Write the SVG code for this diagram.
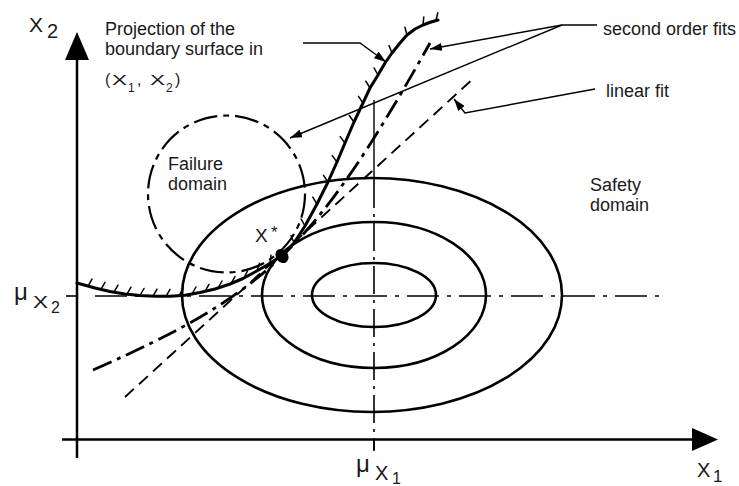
<svg xmlns="http://www.w3.org/2000/svg" width="739" height="486" viewBox="0 0 739 486">
<defs>
<marker id="ah" viewBox="0 0 12 8" refX="12" refY="4" markerWidth="12" markerHeight="8" markerUnits="userSpaceOnUse" orient="auto"><path d="M0,0 L12,4 L0,8 Z" fill="#000"/></marker>
</defs>
<style>
text{font-family:"Liberation Sans",Arial,sans-serif;fill:#1a1a1a}
.lbl{font-size:18px}
.ax{stroke:#000;stroke-width:2.5;fill:none}
.ell{stroke:#000;stroke-width:2.6;fill:none}
.dd{stroke:#000;stroke-width:1.6;fill:none;stroke-dasharray:32 8 4 8}
.lead{stroke:#000;stroke-width:1.4;fill:none}
.hatch{stroke:#000;stroke-width:1.5;fill:none;stroke-linecap:round}
</style>
<rect width="739" height="486" fill="#fff"/>

<g id="axes">
<line class="ax" x1="77" y1="58" x2="77" y2="458"/>
<polygon points="77,32 65,60 89,60" fill="#000"/>
<line class="ax" x1="62" y1="439.5" x2="694" y2="439.5"/>
<polygon points="718,439.5 692,428 692,451" fill="#000"/>
<line class="ax" x1="66" y1="296" x2="77" y2="296" style="stroke-width:1.6"/>
<line class="ax" x1="374" y1="439" x2="374" y2="451" style="stroke-width:1.6"/>
<text x="29" y="32" font-size="21">X</text>
<text x="47" y="38" font-size="20">2</text>
<text x="697" y="477" font-size="20">X</text>
<text x="713" y="482" font-size="17">1</text>
<text x="356" y="472" font-size="24">μ</text>
<text x="375" y="480" font-size="20">X</text>
<text x="392" y="484" font-size="16">1</text>
<text x="14" y="300" font-size="24">μ</text>
<text x="33" y="308" font-size="17" textLength="15" lengthAdjust="spacingAndGlyphs">X</text>
<text x="51" y="313" font-size="16">2</text>
</g>

<g id="center-lines">
<line class="dd" x1="95" y1="296" x2="662" y2="296"/>
<line class="lead" x1="374" y1="100" x2="374" y2="180"/>
<line class="dd" x1="374" y1="180" x2="374" y2="450" style="stroke-dasharray:28 6 3 6"/>
</g>

<g id="ellipses">
<ellipse class="ell" cx="374" cy="295" rx="62" ry="32"/>
<ellipse class="ell" cx="374" cy="295" rx="112" ry="73"/>
<ellipse class="ell" cx="372" cy="295" rx="190" ry="117"/>
</g>

<g id="failure-domain">
<circle cx="226.5" cy="194" r="78.5" fill="none" stroke="#000" stroke-width="2.2" stroke-dasharray="24 6 6 6"/>
<text class="lbl" x="168" y="170">Failure</text>
<text class="lbl" x="168" y="190">domain</text>
</g>

<g id="safety-domain">
<text class="lbl" x="590" y="191">Safety</text>
<text class="lbl" x="590" y="211">domain</text>
</g>

<g id="linear-fit">
<line x1="125" y1="397" x2="475" y2="77" stroke="#000" stroke-width="1.9" stroke-dasharray="12 7"/>
</g>

<g id="second-order-fit">
<path d="M93,370 C265,294 313,251 430,43" fill="none" stroke="#000" stroke-width="2.8" stroke-dasharray="20 6 4 6"/>
</g>

<g id="boundary">
<polyline fill="none" stroke="#000" stroke-width="3" stroke-linejoin="round" stroke-linecap="round" points="77,283 95,288 110,291.5 125,294 140,295.5 155,296.3 170,296.3 185,295.3 200,292.5 215,289 230,284 243,278.5 255,272 268,264.5 282,255.5 294,243 305,226 317,204 328,182 337,162 345,143 354,122 363,103 370,88 378,75 385,63 392,53 400,43 407,35 415,29 423,25 431,22 438,20"/>
<path class="hatch" d="M88,286.1 l4,-7 M101,289.4 l4,-7 M114,292.2 l4,-7 M127,294.2 l4,-7 M140,295.5 l4,-7 M153,296.2 l4,-7 M166,296.3 l4,-7 M179,295.7 l4,-7 M192,294 l4,-7 M205,291.3 l4,-7 M218,288 l4,-7 M231,283.6 l4,-7 M244,278 l3.5,-7.2 M257,270.8 l2.5,-7.6 M270,263.2 l1,-8 M294,243 l-2.9,-7.5 M305,226 l-3.9,-7 M317,204 l-4.2,-6.8 M328,182 l-4.5,-6.6 M337,162 l-4.8,-6.4 M345,143 l-4.8,-6.4 M354,122 l-4.7,-6.5 M363,103 l-4.5,-6.6 M370,88 l-4.2,-6.8 M378,75 l-3.9,-7 M392,53 l-3,-7.4 M407,35 l-2.1,-7.7 M423,25 l0.8,-8 M436,20.5 l1.8,-7.8"/>
<text class="lbl" x="105" y="35">Projection of the</text>
<text class="lbl" x="105" y="55">boundary surface in</text>
<text x="105" y="85" font-size="16">(</text>
<text x="112" y="85" font-size="15" textLength="15" lengthAdjust="spacingAndGlyphs">X</text>
<text x="128" y="92" font-size="12">1</text>
<text x="137" y="85" font-size="16">,</text>
<text x="150" y="85" font-size="15" textLength="15" lengthAdjust="spacingAndGlyphs">X</text>
<text x="166" y="92" font-size="12">2</text>
<text x="175" y="85" font-size="16">)</text>
</g>

<g id="design-point">
<ellipse cx="282" cy="256" rx="6" ry="7.5" transform="rotate(-35 282 256)" fill="#000"/>
<text x="255" y="242" font-size="19">X</text>
<text x="271" y="238" font-size="17">*</text>
</g>

<g id="fit-labels">
<text class="lbl" x="603" y="35">second order fits</text>
<text class="lbl" x="606" y="97">linear fit</text>
</g>

<g id="connectors">
<polyline class="lead" points="303,43 360,43 386,62" marker-end="url(#ah)"/>
<line class="lead" x1="597" y1="25" x2="562" y2="25"/>
<line class="lead" x1="562" y1="25" x2="430" y2="49" marker-end="url(#ah)"/>
<line class="lead" x1="562" y1="25" x2="290" y2="138" marker-end="url(#ah)"/>
<polyline class="lead" points="595,89 465,113 454,99" marker-end="url(#ah)"/>
</g>
</svg>
